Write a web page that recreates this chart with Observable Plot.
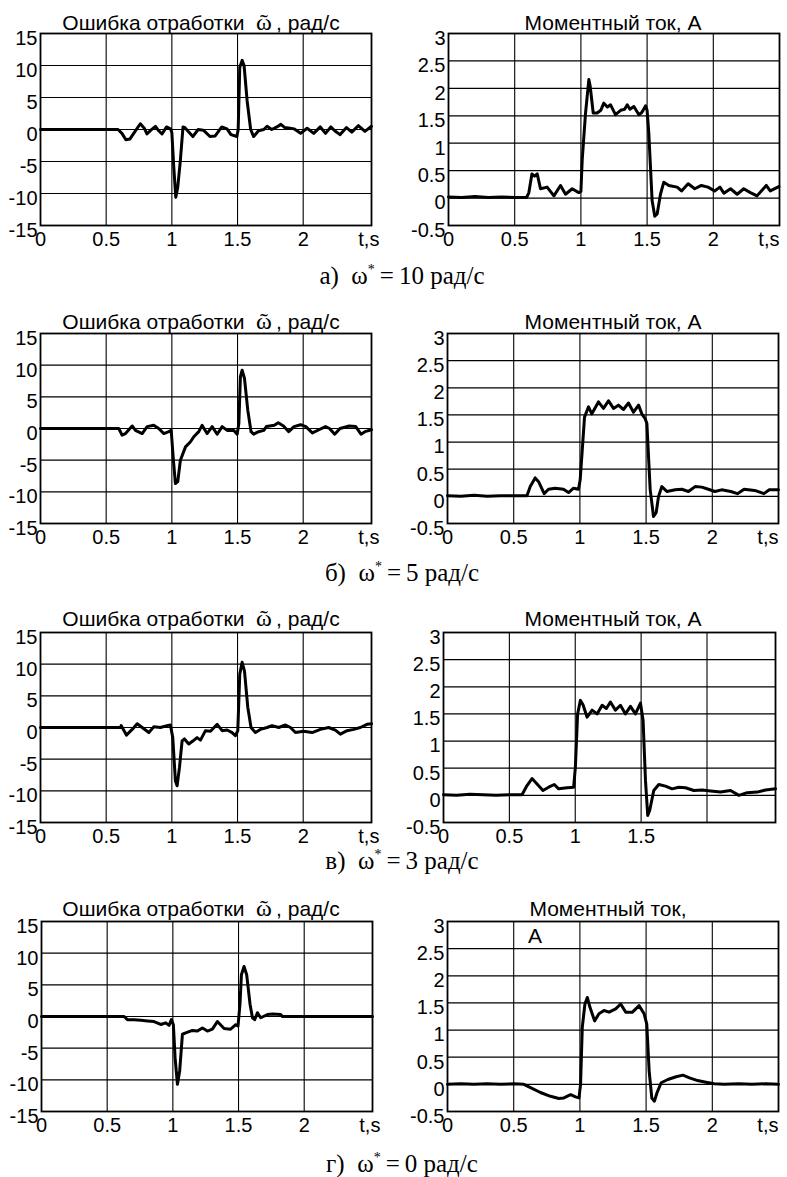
<!DOCTYPE html>
<html><head><meta charset="utf-8">
<script src="https://cdn.jsdelivr.net/npm/d3@7"></script>
<script src="https://cdn.jsdelivr.net/npm/@observablehq/plot@0.6"></script>
<style>
body{margin:0;background:#fff;}
#root{position:relative;width:787px;height:1177px;overflow:hidden;font-family:"Liberation Sans",Arial,sans-serif;color:#000;}
.title{position:absolute;font-size:21px;line-height:1;white-space:nowrap;transform:translate(-50%,-50%);}
.om{font-family:"Liberation Serif","DejaVu Serif","Times New Roman",serif;font-size:24px;}
.rowlabel{position:absolute;font-family:"Liberation Serif","Times New Roman",serif;font-size:25px;line-height:1;white-space:nowrap;transform:translate(-50%,-50%);}
.rowlabel sup{font-size:14px;vertical-align:10px;}
</style></head>
<body><div id="root"></div>
<script>
// ---- categories / labels ----
const rowLetters = ["а)", "б)", "в)", "г)"];
const omegaRef = [10, 5, 3, 0];
const errTitle = "Ошибка отработки";
const curTitles = ["Моментный ток, А", "Моментный ток, А", "Моментный ток, А", "Моментный ток,"];
const errYTicks = [15, 10, 5, 0, -5, -10, -15];
const curYTicks = [3, 2.5, 2, 1.5, 1, 0.5, 0, -0.5];
const xGrid = [0.5, 1, 1.5, 2];
const xTickLabelsFull = ["0", "0.5", "1", "1.5", "2", "t,s"];
const xTickLabelsShort = ["0", "0.5", "1", "1.5"];

// ---- series: [t (s), value] ----
const errA = [[0,0],[0.2,0],[0.4,0],[0.59,0],[0.62,-0.6],[0.65,-1.6],[0.68,-1.5],[0.72,-0.3],[0.76,0.9],[0.79,0.2],[0.81,-0.7],[0.84,-0.1],[0.875,0.5],[0.9,-0.2],[0.925,-0.7],[0.96,0.4],[0.99,0.1],[1.0,-0.5],[1.015,-6],[1.03,-10.6],[1.045,-9],[1.065,-4.8],[1.085,0.4],[1.1,0.3],[1.12,-0.2],[1.16,-1.1],[1.2,0],[1.24,-0.1],[1.29,-1.1],[1.33,-1.0],[1.38,0.4],[1.42,0.1],[1.45,-0.8],[1.495,-1.1],[1.505,0],[1.517,9.7],[1.535,10.8],[1.55,10],[1.573,4.5],[1.6,0],[1.623,-1.1],[1.66,-0.2],[1.7,0],[1.725,0.5],[1.76,0],[1.8,0.4],[1.83,0.8],[1.86,0.3],[1.9,0.2],[1.93,0.1],[1.98,-0.6],[2.03,0.2],[2.08,-0.6],[2.13,0.4],[2.17,-0.6],[2.21,0.4],[2.24,-0.2],[2.28,-0.8],[2.33,0.3],[2.37,-0.4],[2.42,0.6],[2.47,-0.3],[2.52,0.5]];
const curA = [[0,0.02],[0.1,0.01],[0.2,0.03],[0.3,0.01],[0.4,0.02],[0.5,0.01],[0.59,0.01],[0.607,0.1],[0.63,0.44],[0.65,0.4],[0.67,0.44],[0.695,0.17],[0.745,0.2],[0.796,0.04],[0.846,0.23],[0.884,0.07],[0.934,0.17],[0.984,0.1],[1.0,0.12],[1.01,0.7],[1.035,1.55],[1.06,2.16],[1.07,2.04],[1.093,1.55],[1.123,1.55],[1.15,1.6],[1.173,1.73],[1.2,1.66],[1.224,1.7],[1.261,1.52],[1.3,1.6],[1.33,1.62],[1.35,1.7],[1.37,1.62],[1.4,1.67],[1.438,1.52],[1.46,1.56],[1.488,1.68],[1.5,1.6],[1.513,1.18],[1.538,-0.05],[1.558,-0.33],[1.576,-0.29],[1.601,0.07],[1.626,0.29],[1.664,0.23],[1.727,0.2],[1.76,0.13],[1.81,0.26],[1.86,0.17],[1.91,0.23],[1.96,0.2],[2.01,0.13],[2.05,0.2],[2.08,0.09],[2.13,0.17],[2.18,0.07],[2.23,0.17],[2.28,0.1],[2.33,0.04],[2.4,0.23],[2.43,0.13],[2.495,0.21]];
const errB = [[0,0],[0.3,0],[0.596,0],[0.621,-1.05],[0.647,-0.8],[0.698,0.4],[0.723,-0.3],[0.774,-0.8],[0.812,0.3],[0.862,0.5],[0.9,0],[0.939,-0.8],[0.977,-0.5],[0.995,-0.3],[1.01,-4.5],[1.027,-8.7],[1.045,-8.4],[1.065,-5],[1.104,-2.9],[1.142,-2.1],[1.167,-1.3],[1.205,-0.5],[1.23,0.5],[1.268,-0.8],[1.307,0.3],[1.345,-0.9],[1.383,0.3],[1.421,-0.3],[1.472,-0.3],[1.497,-0.9],[1.51,0.8],[1.522,8.2],[1.535,9.2],[1.553,7.9],[1.578,2.9],[1.603,-0.5],[1.623,-0.9],[1.66,-0.5],[1.7,-0.3],[1.72,0.3],[1.78,0.5],[1.81,0.9],[1.85,0.4],[1.89,-0.5],[1.93,0.3],[1.98,0.6],[2.02,0.3],[2.07,-0.7],[2.12,-0.2],[2.17,0.3],[2.2,0],[2.24,-0.9],[2.28,0],[2.35,0.4],[2.4,0.3],[2.44,-0.9],[2.47,-0.5],[2.52,-0.2]];
const curB = [[0,0.01],[0.1,0],[0.2,0.02],[0.3,0],[0.4,0.01],[0.5,0.01],[0.6,0.01],[0.625,0.18],[0.662,0.34],[0.688,0.27],[0.73,0.05],[0.763,0.13],[0.813,0.15],[0.876,0.13],[0.914,0.07],[0.952,0.15],[0.989,0.13],[1.002,0.3],[1.035,1.46],[1.065,1.65],[1.09,1.52],[1.14,1.74],[1.178,1.62],[1.216,1.76],[1.254,1.62],[1.291,1.68],[1.329,1.6],[1.367,1.72],[1.405,1.55],[1.443,1.68],[1.468,1.52],[1.493,1.43],[1.506,1.34],[1.531,0.12],[1.556,-0.37],[1.576,-0.3],[1.594,0],[1.619,0.18],[1.657,0.09],[1.72,0.12],[1.77,0.13],[1.82,0.09],[1.87,0.18],[1.92,0.17],[1.97,0.13],[2.02,0.09],[2.07,0.12],[2.14,0.09],[2.19,0.05],[2.24,0.13],[2.32,0.11],[2.39,0.05],[2.43,0.12],[2.5,0.12]];
const errC = [[0,0],[0.3,0],[0.61,0],[0.614,0.3],[0.654,-1.2],[0.698,-0.3],[0.736,0.6],[0.774,0],[0.825,-0.8],[0.862,0.1],[0.913,0],[0.964,0.3],[0.989,0.4],[1.007,-1.6],[1.027,-8.4],[1.04,-9.2],[1.058,-6.3],[1.078,-2.1],[1.096,-1.8],[1.129,-2.6],[1.162,-2.1],[1.192,-1.6],[1.218,-2],[1.256,-0.5],[1.294,-0.6],[1.345,0.5],[1.383,-0.5],[1.421,-0.4],[1.459,-0.8],[1.484,-1.3],[1.502,-0.5],[1.517,8.4],[1.535,10.3],[1.553,8.9],[1.578,3.2],[1.603,0],[1.636,-0.8],[1.674,-0.3],[1.725,0],[1.763,0.3],[1.814,0],[1.865,0.4],[1.903,0],[1.941,-0.8],[2.004,-0.6],[2.068,-0.8],[2.131,-0.3],[2.194,0],[2.245,-0.4],[2.283,-1.05],[2.334,-0.5],[2.385,-0.3],[2.435,0],[2.486,0.5],[2.52,0.6]];
const curC = [[0,0.01],[0.1,0],[0.2,0.02],[0.3,0.01],[0.4,0],[0.5,0.01],[0.596,0.01],[0.634,0.18],[0.672,0.31],[0.71,0.21],[0.755,0.09],[0.798,0.15],[0.841,0.2],[0.874,0.12],[0.938,0.14],[0.988,0.15],[1.001,0.52],[1.018,1.5],[1.039,1.75],[1.059,1.67],[1.09,1.44],[1.128,1.57],[1.166,1.5],[1.204,1.66],[1.236,1.6],[1.267,1.72],[1.305,1.57],[1.343,1.66],[1.381,1.5],[1.419,1.64],[1.457,1.5],[1.495,1.7],[1.515,1.38],[1.533,0.28],[1.55,-0.37],[1.565,-0.28],[1.596,0.09],[1.634,0.2],[1.685,0.17],[1.735,0.12],[1.786,0.15],[1.837,0.14],[1.9,0.09],[1.963,0.1],[2.027,0.08],[2.103,0.06],[2.179,0.09],[2.242,0],[2.305,0.05],[2.381,0.06],[2.445,0.1],[2.52,0.12]];
const errD = [[0,0],[0.3,0],[0.629,0],[0.654,-0.5],[0.705,-0.5],[0.756,-0.6],[0.807,-0.7],[0.857,-0.8],[0.908,-1.26],[0.946,-1.0],[0.971,-1.4],[0.989,-0.5],[1.004,-1.3],[1.017,-6.5],[1.035,-10.7],[1.052,-8.6],[1.073,-2.8],[1.098,-2.6],[1.149,-2.2],[1.187,-2.3],[1.225,-1.8],[1.263,-2.3],[1.301,-2.0],[1.339,-0.8],[1.39,-1.9],[1.44,-2.0],[1.479,-1.3],[1.496,-1.5],[1.511,1.9],[1.522,6.6],[1.542,7.9],[1.562,6.6],[1.588,1.9],[1.606,-0.2],[1.623,-0.5],[1.644,0.6],[1.669,-0.2],[1.72,0.3],[1.758,0.4],[1.821,0.3],[1.834,0],[2.52,0]];
const curD = [[0,0],[0.1,0.01],[0.2,0],[0.3,0.01],[0.4,0],[0.5,0.01],[0.576,0],[0.627,-0.06],[0.702,-0.15],[0.778,-0.22],[0.841,-0.26],[0.879,-0.25],[0.93,-0.19],[0.967,-0.23],[0.993,-0.25],[1.005,0],[1.018,1.05],[1.038,1.48],[1.056,1.6],[1.076,1.42],[1.111,1.17],[1.144,1.3],[1.182,1.36],[1.22,1.33],[1.27,1.39],[1.308,1.48],[1.346,1.33],[1.397,1.33],[1.447,1.45],[1.485,1.3],[1.505,1.11],[1.523,0.25],[1.543,-0.25],[1.563,-0.31],[1.583,-0.15],[1.614,0.03],[1.664,0.09],[1.727,0.14],[1.778,0.17],[1.828,0.12],[1.889,0.07],[1.952,0.04],[2.015,0.01],[2.091,0],[2.2,0.01],[2.3,0],[2.4,0.01],[2.5,0]];

const errSeries = [errA, errB, errC, errD];
const curSeries = [curA, curB, curC, curD];

// ---- layout (frame boxes, px) ----
const rowTop = [33, 333, 632, 921];
const leftX = [40, 40, 40, 41];
const rightX = [448, 447, 443, 447];
const frameH = [192, 190, 190, 190];
const frameW = [331, 331, 332, 331];
const titleY = [22, 321, 618, 908];
const rowLabelY = [275, 572, 860, 1163];

const root = document.getElementById("root");
const FONT = "'Liberation Sans', Arial, sans-serif";

function panel({left, top, w, h, xDomain, yDomain, yTicks, xTicks, xLabels, data}) {
  const mL = 52, mR = 14, mT = 8, mB = 34;
  const labelOf = new Map(xTicks.map((t, i) => [t, xLabels[i]]));
  const chart = Plot.plot({
    width: w + mL + mR, height: h + mT + mB,
    marginLeft: mL, marginRight: mR, marginTop: mT, marginBottom: mB,
    x: {domain: xDomain, axis: null},
    y: {domain: yDomain, axis: null},
    style: {fontFamily: FONT, fontSize: "20px", color: "black", background: "transparent", overflow: "visible"},
    marks: [
      Plot.ruleY(yTicks, {stroke: "black", strokeWidth: 1.2}),
      Plot.ruleX(xGrid, {stroke: "black", strokeWidth: 1.1}),
      Plot.line(data, {x: d => d[0], y: d => d[1], stroke: "black", strokeWidth: 3, strokeLinejoin: "round", strokeLinecap: "round"}),
      Plot.frame({stroke: "black", strokeWidth: 1.8}),
      Plot.axisY(yTicks, {tickSize: 0, tickPadding: 3, dy: 5, tickFormat: d => String(d), fontSize: 20, fill: "black"}),
      Plot.axisX(xTicks, {tickSize: 0, tickPadding: 6, tickFormat: d => labelOf.get(d), fontSize: 20, fill: "black"})
    ]
  });
  chart.style.position = "absolute";
  chart.style.left = (left - mL) + "px";
  chart.style.top = (top - mT) + "px";
  root.appendChild(chart);
}

function addDiv(cls, html, x, y) {
  const d = document.createElement("div");
  d.className = cls;
  d.innerHTML = html;
  d.style.left = x + "px";
  d.style.top = y + "px";
  root.appendChild(d);
}

for (let r = 0; r < 4; r++) {
  panel({
    left: leftX[r], top: rowTop[r], w: 331, h: frameH[r],
    xDomain: [0, 2.52], yDomain: [-15, 15], yTicks: errYTicks,
    xTicks: [0, 0.5, 1, 1.5, 2, 2.5], xLabels: xTickLabelsFull,
    data: errSeries[r]
  });
  const short = r === 2;
  panel({
    left: rightX[r], top: rowTop[r], w: frameW[r], h: frameH[r],
    xDomain: [0, r === 2 ? 2.52 : 2.5], yDomain: [-0.5, 3], yTicks: curYTicks,
    xTicks: short ? [0, 0.5, 1, 1.5] : [0, 0.5, 1, 1.5, 2, 2.42],
    xLabels: short ? xTickLabelsShort : xTickLabelsFull,
    data: curSeries[r]
  });
  addDiv("title", errTitle + "&nbsp;&nbsp;<span class='om'>ῶ</span>&thinsp;, рад/с", 201, titleY[r]);
  addDiv("title", curTitles[r], r === 3 ? 608 : 613, titleY[r]);
  addDiv("rowlabel", rowLetters[r] + "&nbsp;&nbsp;ω<sup>*</sup>&thinsp;=&thinsp;" + omegaRef[r] + " рад/с", 402, rowLabelY[r]);
}
addDiv("title", "А", 535, 935);
</script>
</body></html>
